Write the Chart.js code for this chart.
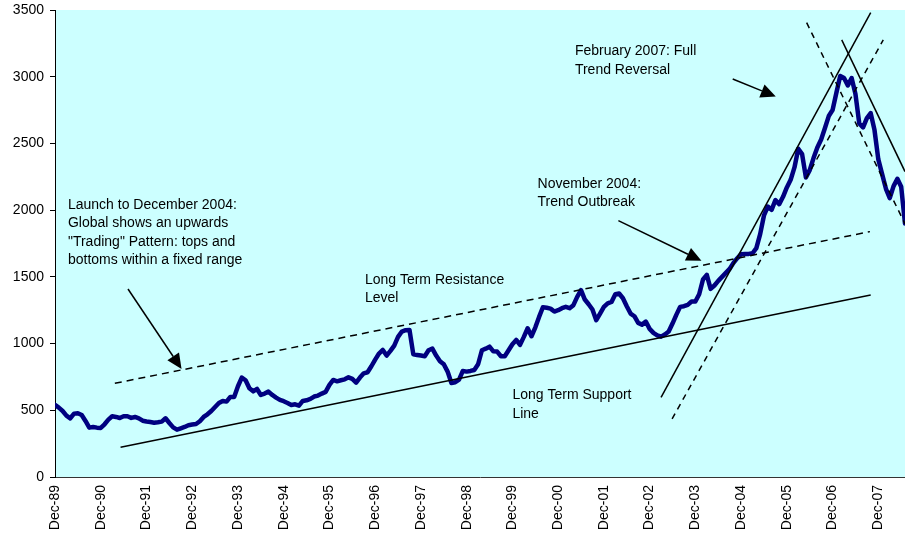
<!DOCTYPE html>
<html>
<head>
<meta charset="utf-8">
<script src="https://cdn.jsdelivr.net/npm/chart.js@4.4.1/dist/chart.umd.min.js"></script>
<style>
  html, body { margin: 0; padding: 0; background: #fff; }
  #wrap { width: 905px; height: 543px; position: relative; }
</style>
</head>
<body>
<div id="wrap"><canvas id="chart"></canvas></div>
<script>
// monthly index values, starting Dec-89
const values = [
  540, 520, 495, 460, 440, 475, 478, 465, 420, 370, 375, 370,
  368, 395, 430, 455, 450, 442, 455, 455, 443, 450, 440, 422,
  416, 412, 407, 410, 415, 440, 405, 372, 355, 365, 375, 388,
  393, 397, 418, 450, 470, 495, 525, 555, 570, 565, 600, 600,
  680, 745, 725, 665, 642, 660, 615, 625, 640, 615, 595, 578,
  568, 555, 540, 545, 535, 570, 575, 585, 603, 610, 625, 638,
  690, 727, 717, 725, 732, 747, 735, 707, 745, 777, 785, 830,
  880, 925, 952, 910, 945, 985, 1050, 1090, 1100, 1102, 920, 915,
  910, 905, 950, 962, 910, 868, 845, 790, 705, 710, 730, 795,
  790, 795, 802, 845, 950, 962, 977, 942, 940, 905, 905, 950,
  995, 1027, 990, 1050, 1115, 1055, 1120, 1200, 1272, 1268, 1262, 1240,
  1250, 1265, 1275, 1265, 1288, 1350, 1400, 1330, 1295, 1255, 1175, 1225,
  1275, 1302, 1312, 1370, 1375, 1340, 1280, 1225, 1205, 1155, 1142, 1165,
  1110, 1080, 1062, 1052, 1068, 1090, 1150, 1215, 1275, 1280, 1290, 1315,
  1315, 1370, 1480, 1515, 1410, 1435, 1470, 1500, 1530, 1560, 1605, 1640,
  1670, 1672, 1672, 1677, 1715, 1820, 1960, 2027, 2002, 2075, 2045, 2100,
  2170, 2227, 2320, 2460, 2420, 2245, 2300, 2390, 2470, 2530, 2615, 2705,
  2750, 2880, 3005, 2990, 2935, 2990, 2870, 2650, 2620, 2690, 2727, 2600,
  2380, 2270, 2160, 2090, 2180, 2235, 2175, 1900
];

const yearLabels = ['Dec-89', 'Dec-90', 'Dec-91', 'Dec-92', 'Dec-93', 'Dec-94', 'Dec-95',
  'Dec-96', 'Dec-97', 'Dec-98', 'Dec-99', 'Dec-00', 'Dec-01', 'Dec-02', 'Dec-03',
  'Dec-04', 'Dec-05', 'Dec-06', 'Dec-07'];

// trend lines drawn on the chart: [monthIndex, value] end points
const resistanceLine = [[15.7, 702], [213.8, 1839]];
const supportLine = [[17.2, 223], [214, 1364]];
const upSolid = [[159, 597], [214, 3480]];
const upDashed = [[161.9, 435], [217.3, 3276]];
const downSolid = [[206.4, 3276], [223, 2289]];
const downDashed = [[197.2, 3405], [223, 1897]];

// arrows: from [month, value] to [month, value]
const arrows = [
  [[19.15, 1409], [33.2, 810]],
  [[147.8, 1921], [169.6, 1621]],
  [[177.8, 2983], [189.1, 2851]]
];

const notes = [
  { at: [3.4, 2039], lines: ['Launch to December 2004:', 'Global shows an upwards', '"Trading" Pattern: tops and', 'bottoms within a fixed range'] },
  { at: [81.3, 1477], lines: ['Long Term Resistance', 'Level'] },
  { at: [126.6, 2196], lines: ['November 2004:', 'Trend Outbreak'] },
  { at: [136.4, 3190], lines: ['February 2007: Full', 'Trend Reversal'] },
  { at: [120, 612], lines: ['Long Term Support', 'Line'] }
];

const FONT = '"Liberation Sans", Arial, sans-serif';

function trend(pts, dash) {
  return {
    data: pts.map(p => ({ x: p[0], y: p[1] })),
    borderColor: '#000',
    borderWidth: 1.5,
    borderDash: dash,
    pointRadius: 0,
    order: 1
  };
}

const decor = {
  id: 'decor',
  beforeDraw(chart) {
    const { ctx, chartArea: a } = chart;
    ctx.save();
    ctx.fillStyle = '#ccffff';
    ctx.fillRect(a.left, a.top, a.right - a.left, a.bottom - a.top);
    ctx.restore();
  },
  afterDatasetsDraw(chart) {
    const { ctx, scales: { x, y } } = chart;
    ctx.save();
    ctx.strokeStyle = '#000';
    ctx.fillStyle = '#000';
    ctx.lineWidth = 1.5;
    arrows.forEach(([from, to]) => {
      const x0 = x.getPixelForValue(from[0]), y0 = y.getPixelForValue(from[1]);
      const x1 = x.getPixelForValue(to[0]), y1 = y.getPixelForValue(to[1]);
      const ang = Math.atan2(y1 - y0, x1 - x0);
      const len = 15, half = 7;
      const bx = x1 - len * Math.cos(ang), by = y1 - len * Math.sin(ang);
      ctx.beginPath();
      ctx.moveTo(x0, y0);
      ctx.lineTo(bx, by);
      ctx.stroke();
      ctx.beginPath();
      ctx.moveTo(x1, y1);
      ctx.lineTo(bx + half * Math.sin(ang), by - half * Math.cos(ang));
      ctx.lineTo(bx - half * Math.sin(ang), by + half * Math.cos(ang));
      ctx.closePath();
      ctx.fill();
    });
    ctx.font = '14px ' + FONT;
    ctx.textBaseline = 'middle';
    ctx.textAlign = 'left';
    notes.forEach(n => {
      const px = x.getPixelForValue(n.at[0]), py = y.getPixelForValue(n.at[1]);
      n.lines.forEach((t, i) => ctx.fillText(t, px, py + i * 18.5));
    });
    ctx.restore();
  }
};

new Chart(document.getElementById('chart'), {
  type: 'line',
  data: {
    datasets: [
      {
        data: values.map((v, i) => ({ x: i, y: v })),
        borderColor: '#000080',
        borderWidth: 4.5,
        borderJoinStyle: 'round',
        borderCapStyle: 'round',
        pointRadius: 0,
        tension: 0,
        order: 2
      },
      trend(resistanceLine, [7, 5]),
      trend(supportLine, []),
      trend(upSolid, []),
      trend(upDashed, [6, 5]),
      trend(downSolid, []),
      trend(downDashed, [6, 5])
    ]
  },
  options: {
    responsive: true,
    maintainAspectRatio: false,
    animation: false,
    layout: { padding: { top: 10, right: 0, left: 0, bottom: 0 } },
    plugins: { legend: { display: false }, tooltip: { enabled: false } },
    scales: {
      x: {
        type: 'linear',
        min: 0,
        max: 223,
        ticks: {
          stepSize: 12,
          includeBounds: false,
          autoSkip: false,
          minRotation: 90,
          maxRotation: 90,
          padding: 8,
          color: '#000',
          font: { family: FONT, size: 14 },
          callback: v => (v % 12 === 0 ? yearLabels[v / 12] : '')
        },
        grid: { display: true, drawOnChartArea: false, drawTicks: false },
        border: { display: true, color: '#333', width: 1 },
        afterFit(s) { s.height = 66; s.paddingLeft = 0; s.paddingRight = 0; }
      },
      y: {
        min: 0,
        max: 3500,
        ticks: {
          stepSize: 500,
          padding: 6,
          color: '#000',
          font: { family: FONT, size: 14 },
          callback: v => String(v)
        },
        grid: { drawOnChartArea: false, drawTicks: true, tickLength: 5, color: '#000' },
        border: { display: true, color: '#000', width: 1 },
        afterFit(s) { s.width = 55; s.paddingTop = 0; s.paddingBottom = 0; }
      }
    }
  },
  plugins: [decor]
});
</script>
</body>
</html>
